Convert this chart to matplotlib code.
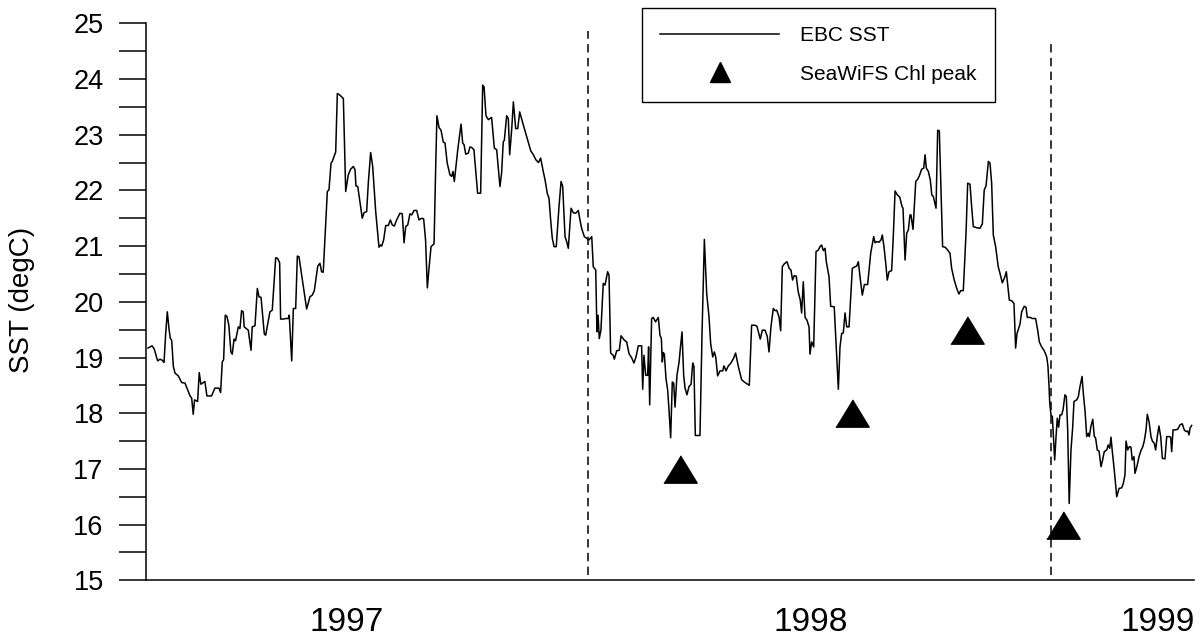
import matplotlib
matplotlib.use("Agg")
import matplotlib.pyplot as plt
from matplotlib.ticker import MultipleLocator
from matplotlib.lines import Line2D
from matplotlib import font_manager

plt.rcParams['font.family'] = ['Liberation Sans', 'DejaVu Sans']

# ---- data (x = days from start of record, y = SST degC) ----
days = [
    0, 3, 4.6, 7, 8.8, 10.4, 11.7, 12.9, 14.1, 15.3,
    16.3, 17.3, 18.5, 19.7, 22.1, 24.6, 27, 28.9, 30.7, 31.9,
    33, 34, 36.2, 37.4, 38.6, 41.5, 43, 46.4, 48.8, 51.8,
    53, 54.2, 55.2, 56.4, 57.6, 59, 60.5, 61.5, 62.8, 63.9,
    65.9, 67.1, 68.3, 69.5, 70.2, 73.2, 75.2, 76.1, 78.1, 79.8,
    81, 82.5, 84.9, 85.9, 89, 90.7, 93.2, 94.6, 96.1, 96.8,
    98.7, 100.5, 102.4, 103.1, 104.9, 106.1, 107.8, 109, 110.2, 115.8,
    118.2, 119.9, 121.4, 123.9, 125.5, 126.7, 127.9, 130.9, 132.1, 133.6,
    134.5, 137, 138.2, 140.1, 142.6, 144.3, 146.2, 147.9, 149.9, 151.1,
    151.8, 153.1, 156.4, 157.7, 159.6, 160.8, 162.5, 164, 166.2, 168.6,
    169.8, 170.6, 172, 173.5, 175.4, 176.9, 178.3, 179.8, 181.5, 183.9,
    185.6, 186.9, 188.1, 189.6, 191.2, 192.5, 194.2, 196.1, 197.8, 199.8,
    201.2, 202.6, 203.9, 205.1, 206.6, 208.8, 210, 210.9, 212.4, 213.9,
    215.5, 216.8, 218.4, 220.4, 221.7, 222.6, 223.6, 226.1, 228.5, 229.7,
    230.7, 231.9, 233.8, 235, 236.3, 237.9, 240.6, 242.8, 244.3, 245.3,
    246.7, 248.4, 250.8, 252.8, 254.5, 256.9, 258.1, 259.3, 260.1, 261.8,
    263, 264, 265.5, 266.7, 268.4, 269.9, 271.3, 274, 277.2, 279.4,
    281.3, 283.1, 285, 286.6, 288.5, 289.8, 291.5, 292.7, 293.9, 295.1,
    296.4, 298, 300, 301.5, 302.7, 304.4, 305.6, 306.8, 308.8, 310.4,
    312.2, 314.1, 315.3, 316.5, 318.5, 320.2, 321.9, 323.9, 325, 326.8,
    327.7, 328.5, 329.4, 330.6, 332.3, 333.6, 335.5, 336.5, 337.7, 339.6,
    340.4, 342.1, 344, 345.3, 347.7, 349.4, 351.1, 353.1, 354.7, 356.2,
    357.9, 360.3, 361.1, 362, 363.3, 364.7, 365.4, 366.2, 367.6, 368.8,
    370.5, 372.5, 373.7, 374.7, 375.4, 376.1, 376.9, 378.1, 379.3, 380.3,
    381.5, 382.7, 383.7, 384.7, 386.1, 387.6, 388.6, 389.8, 391, 392,
    393.4, 394.9, 396.4, 397.6, 398.5, 399.5, 402.9, 404.4, 406.1, 407.8,
    409.5, 410.7, 412.2, 413.4, 414.4, 415.8, 417.5, 419.5, 420.4, 421.9,
    423.6, 425.5, 427.5, 428.9, 430.9, 433.3, 435.8, 438.9, 440.6, 443,
    444.5, 446.9, 448.4, 450.4, 452, 453.3, 454.7, 456.4, 457.7, 458.9,
    460.6, 461.8, 463, 464.4, 466.4, 468, 469.3, 470.5, 471.7, 473.2,
    474.6, 476.1, 477.1, 478.3, 479.6, 481, 482.5, 483.2, 484.4, 485.9,
    487.6, 489.3, 490.5, 491.7, 492.9, 494.2, 495.1, 497.1, 498.3, 500.9,
    502.7, 503.9, 505.1, 506.3, 507.5, 508.8, 510, 511.7, 514.1, 516.1,
    517.3, 518.5, 520, 521.4, 522.9, 525.3, 527.5, 529.7, 530.7, 531.9,
    533.6, 535, 536, 537.2, 538.5, 539.6, 540.9, 542.8, 544, 545.3,
    546.9, 548.7, 550.4, 551.1, 552.6, 553.8, 555, 556.2, 556.9, 558.4,
    559.4, 560.4, 561.8, 563, 564.7, 566.2, 567.2, 568.1, 569.6, 571,
    572.1, 573.2, 575.2, 576.4, 577.6, 578.8, 580, 581.8, 583.7, 585.4,
    586.6, 588.5, 590.3, 591.9, 593.2, 595.1, 597.1, 598.3, 600, 601.2,
    602.4, 604.9, 607.3, 609, 610.4, 611.7, 613.4, 614.6, 615.8, 617,
    618.7, 620.6, 621.9, 623.6, 625.5, 626.5, 627.5, 628.7, 630.4, 632.1,
    633.3, 634.3, 635.8, 636.5, 637.7, 639.6, 640.9, 641.8, 643.8, 645.5,
    647.9, 649.4, 650.6, 652.3, 654.2, 656, 656.9, 657.7, 658.2, 659.1,
    660.1, 660.8, 661.8, 662.8, 663.7, 664.7, 665.7, 666.9, 667.9, 669.3,
    670.3, 671.3, 672.4, 673.7, 674.9, 675.9, 677.9, 679.1, 680.3, 681.8,
    682.7, 684, 685.2, 686.4, 687.1, 688.3, 689.6, 690.7, 691.7, 692.9,
    694.2, 695.6, 696.8, 698, 699.8, 700.9, 702, 702.9, 703.9, 705.3,
    707.1, 708.8, 710.7, 711.9, 713.1, 713.9, 715.1, 716.3, 717.5, 718.4,
    719.7, 720.4, 721.7, 723.4, 724.8, 726, 727.2, 728.5, 729.4, 730.7,
    732.1, 733.1, 734.5, 735.5, 736.7, 737.9, 739.2, 740.4, 742.3, 743.6,
    745.3, 746.5, 747.2, 748.2, 749.6, 751.6, 753.3, 754.9, 756.4, 757.7,
    758.9, 759.9, 760.6, 761.8,
]

sst = [
    19.17, 19.21, 19.15, 18.94, 18.97, 18.95, 18.91, 19.43, 19.82, 19.52,
    19.34, 19.31, 18.84, 18.72, 18.67, 18.55, 18.54, 18.42, 18.31, 18.27,
    17.98, 18.24, 18.21, 18.73, 18.52, 18.57, 18.31, 18.31, 18.45, 18.45,
    18.37, 18.92, 18.96, 19.76, 19.74, 19.58, 19.10, 19.06, 19.33, 19.30,
    19.55, 19.52, 19.84, 19.82, 19.55, 19.49, 19.13, 19.55, 19.57, 20.24,
    20.09, 20.08, 19.42, 19.40, 19.82, 19.85, 20.79, 20.78, 20.70, 19.69,
    19.69, 19.70, 19.70, 19.76, 18.94, 19.88, 19.88, 20.82, 20.81, 19.87,
    20.09, 20.12, 20.20, 20.64, 20.69, 20.54, 20.53, 21.98, 22.01, 22.49,
    22.52, 22.69, 23.74, 23.71, 23.65, 21.98, 22.28, 22.38, 22.43, 22.37,
    22.08, 22.07, 21.50, 21.60, 21.62, 22.13, 22.68, 22.43, 21.62, 20.98,
    21.02, 21.00, 21.11, 21.37, 21.37, 21.47, 21.38, 21.36, 21.47, 21.59,
    21.58, 21.06, 21.35, 21.38, 21.58, 21.56, 21.64, 21.64, 21.47, 21.50,
    21.49, 21.11, 20.25, 20.60, 20.99, 21.04, 22.43, 23.34, 23.13, 23.08,
    22.87, 22.85, 22.49, 22.28, 22.25, 22.34, 22.16, 22.73, 23.19, 22.85,
    22.82, 22.65, 22.67, 22.78, 22.77, 22.73, 21.95, 21.95, 23.89, 23.86,
    23.34, 23.27, 23.31, 22.76, 22.73, 22.07, 22.31, 22.87, 22.90, 23.34,
    23.29, 22.64, 23.11, 23.59, 23.11, 23.11, 23.41, 23.17, 22.90, 22.71,
    22.64, 22.55, 22.50, 22.58, 22.34, 22.19, 21.94, 21.86, 21.47, 21.14,
    20.99, 20.99, 21.71, 22.16, 22.07, 21.17, 21.08, 20.96, 21.68, 21.60,
    21.59, 21.64, 21.47, 21.32, 21.17, 21.14, 21.11, 21.17, 20.63, 20.57,
    19.46, 19.76, 19.34, 19.49, 20.33, 20.30, 20.54, 20.48, 19.08, 19.04,
    18.97, 19.12, 19.13, 19.39, 19.31, 19.28, 19.07, 18.99, 18.90, 19.01,
    19.21, 19.21, 18.43, 19.04, 18.68, 18.68, 19.19, 18.15, 19.70, 19.72,
    19.64, 19.72, 19.40, 19.34, 18.92, 19.09, 19.06, 18.62, 18.42, 18.06,
    17.56, 18.56, 18.54, 18.11, 18.68, 18.91, 19.17, 19.46, 18.68, 18.45,
    18.33, 18.48, 18.52, 18.90, 18.84, 17.60, 17.60, 19.43, 21.12, 20.15,
    19.73, 19.25, 19.01, 19.10, 19.01, 18.67, 18.76, 18.76, 18.85, 18.76,
    18.85, 18.90, 18.99, 19.08, 18.84, 18.60, 18.55, 18.50, 19.58, 19.58,
    19.56, 19.33, 19.49, 19.49, 19.38, 19.10, 19.55, 19.88, 19.84, 19.85,
    19.73, 19.48, 20.63, 20.68, 20.72, 20.60, 20.57, 20.39, 20.47, 20.46,
    20.18, 20.03, 19.80, 20.36, 19.72, 19.67, 19.55, 19.06, 19.28, 19.19,
    20.90, 20.93, 20.99, 21.02, 20.92, 20.96, 20.72, 20.45, 19.92, 19.91,
    19.01, 18.43, 19.19, 19.43, 19.44, 19.80, 19.55, 19.55, 20.60, 20.63,
    20.64, 20.72, 20.39, 20.12, 20.31, 20.31, 20.87, 21.17, 21.06, 21.08,
    21.07, 21.11, 21.20, 20.99, 20.69, 20.39, 20.54, 20.56, 21.17, 21.99,
    21.92, 21.88, 21.71, 21.68, 20.75, 21.23, 21.29, 21.56, 21.56, 21.30,
    21.72, 22.16, 22.20, 22.26, 22.38, 22.40, 22.64, 22.40, 22.34, 22.19,
    21.92, 21.89, 21.68, 23.08, 23.07, 22.02, 20.99, 20.98, 20.93, 20.87,
    20.60, 20.39, 20.24, 20.14, 20.20, 20.20, 21.23, 22.13, 22.11, 21.71,
    21.35, 21.33, 21.32, 21.40, 22.01, 22.08, 22.52, 22.49, 22.13, 21.20,
    20.99, 20.63, 20.51, 20.34, 20.45, 20.54, 20.30, 20.03, 20.02, 19.97,
    19.17, 19.43, 19.55, 19.60, 19.82, 19.92, 19.90, 19.72, 19.72, 19.70,
    19.70, 19.49, 19.28, 19.19, 19.12, 19.01, 18.84, 18.48, 18.18, 17.97,
    17.94, 17.61, 17.16, 17.58, 17.91, 17.75, 17.97, 17.97, 18.06, 18.33,
    18.30, 17.70, 16.38, 17.34, 17.73, 18.21, 18.24, 18.30, 18.48, 18.66,
    18.36, 18.03, 17.58, 17.64, 17.58, 17.77, 17.89, 17.59, 17.55, 17.34,
    17.32, 17.04, 17.16, 17.31, 17.34, 17.43, 17.37, 17.57, 17.31, 16.98,
    16.50, 16.65, 16.66, 16.74, 16.89, 17.50, 17.34, 17.40, 17.39, 17.16,
    17.22, 16.92, 17.03, 17.22, 17.33, 17.39, 17.50, 17.70, 17.98, 17.85,
    17.58, 17.50, 17.46, 17.34, 17.58, 17.77, 17.58, 17.19, 17.18, 17.58,
    17.58, 17.57, 17.31, 17.70, 17.70, 17.71, 17.79, 17.81, 17.70, 17.67,
    17.68, 17.61, 17.73, 17.78,
]
assert len(days) == len(sst)

chl_peak_days = [388, 514, 598, 668]
chl_peak_marker_y = [17.0, 18.0, 19.5, 16.0]

event_days = [321, 659]
event_tops = [24.86, 24.66]

year_label_days = [145.3, 484.0, 736.9]
year_labels = ['1997', '1998', '1999']

# ---- figure ----
W, H = 1204, 641
fig = plt.figure(figsize=(W / 100, H / 100), dpi=100)
ax = fig.add_axes([146 / W, 1 - 580.3 / H, (1194 - 146) / W, (580.3 - 23.3) / H])

ax.plot(days, sst, color='black', lw=1.1, zorder=3)

tri = [(-1, -0.82), (1, -0.82), (0, 0.82)]
ax.plot(chl_peak_days, chl_peak_marker_y, linestyle='none', marker=tri,
        markersize=24, color='black', zorder=4, clip_on=False)

ax.vlines(event_days, 15.1, event_tops, colors='black', linestyles=(0, (5.5, 3.5)),
          lw=1.1, zorder=2)

ax.set_xlim(-1.46, 763.5)
ax.set_ylim(15, 25)

for s in ['top', 'right']:
    ax.spines[s].set_visible(False)
for s in ['left', 'bottom']:
    ax.spines[s].set_linewidth(1.1)

ax.yaxis.set_major_locator(MultipleLocator(1))
ax.yaxis.set_minor_locator(MultipleLocator(0.5))
ax.tick_params(axis='y', which='both', direction='out', length=19.5, width=1.1,
               labelsize=19.5, pad=11)
ax.tick_params(axis='y', which='minor', labelleft=False)

ax.set_xticks(year_label_days)
ax.set_xticklabels(year_labels)
ax.tick_params(axis='x', length=0, labelsize=24, pad=19)

fig.text(22 / W, 1 - 300 / H, 'SST (degC)', rotation=90, ha='center', va='center',
         fontsize=20)

# legend
try:
    font_manager.findfont('Liberation Sans Narrow', fallback_to_default=False)
    leg_family, leg_size = 'Liberation Sans Narrow', 18
except Exception:
    leg_family, leg_size = 'Liberation Sans', 15

fs_px = leg_size * 100 / 72
handles = [
    Line2D([], [], color='black', lw=1.1),
    Line2D([], [], linestyle='none', marker='^', markersize=14, color='black'),
]
leg = ax.legend(handles, ['EBC SST', 'SeaWiFS Chl peak'],
                loc='upper left', bbox_to_anchor=(642 / W, 1 - 8 / H),
                bbox_transform=fig.transFigure, borderaxespad=0,
                prop={'family': leg_family, 'size': leg_size},
                handlelength=119 / fs_px, handletextpad=21 / fs_px,
                borderpad=18 / fs_px, labelspacing=0.95,
                fancybox=False, framealpha=1, edgecolor='black')
leg.get_frame().set_linewidth(1.0)

fig.savefig('out.png', dpi=100)
